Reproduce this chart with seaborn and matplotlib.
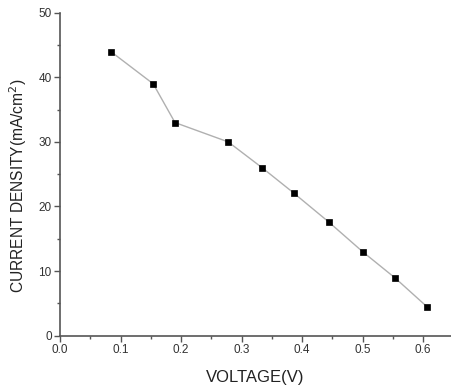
import matplotlib
matplotlib.use("Agg")
import matplotlib.pyplot as plt
import seaborn as sns
import pandas as pd
from matplotlib.ticker import MultipleLocator

voltage = [0.084, 0.154, 0.19, 0.278, 0.334, 0.386, 0.444, 0.5, 0.554, 0.606]
current_density = [44.0, 39.0, 33.0, 30.0, 26.0, 22.1, 17.6, 13.0, 8.9, 4.5]
x_ticks = [0.0, 0.1, 0.2, 0.3, 0.4, 0.5, 0.6]
y_ticks = [0, 10, 20, 30, 40, 50]

df = pd.DataFrame({"V": voltage, "J": current_density})

sns.set_theme(style="ticks")
plt.rcParams["font.family"] = ["Liberation Sans", "DejaVu Sans"]

fig = plt.figure(figsize=(4.51, 3.88), dpi=100)
ax = fig.add_axes([0.133, 0.135, 0.867, 0.832])

sns.lineplot(data=df, x="V", y="J", ax=ax, color="#b0b0b0", linewidth=1.0,
             marker="s", markersize=4.5, markerfacecolor="black",
             markeredgecolor="black", markeredgewidth=0.5)

ax.set_xlim(0, 0.646)
ax.set_ylim(0, 50)
ax.set_xticks(x_ticks)
ax.set_xticklabels([f"{t:.1f}" for t in x_ticks])
ax.set_yticks(y_ticks)
ax.xaxis.set_minor_locator(MultipleLocator(0.05))
ax.yaxis.set_minor_locator(MultipleLocator(5))

for s in ["top", "right"]:
    ax.spines[s].set_visible(False)
for s in ["left", "bottom"]:
    ax.spines[s].set_color("#555555")
    ax.spines[s].set_linewidth(1.2)

ax.tick_params(which="major", direction="out", length=4, width=1.0,
               color="#555555", labelsize=8.5, labelcolor="#333333", pad=2)
ax.tick_params(which="minor", direction="out", length=2.5, width=1.0,
               color="#555555")

ax.set_xlabel("VOLTAGE(V)", fontsize=12, color="#222222", labelpad=10)
ax.set_ylabel("CURRENT DENSITY(mA/cm$^2$)", fontsize=11.2, color="#222222")
ax.yaxis.set_label_coords(-0.08, 0.465)

fig.savefig("out.png", dpi=100)
